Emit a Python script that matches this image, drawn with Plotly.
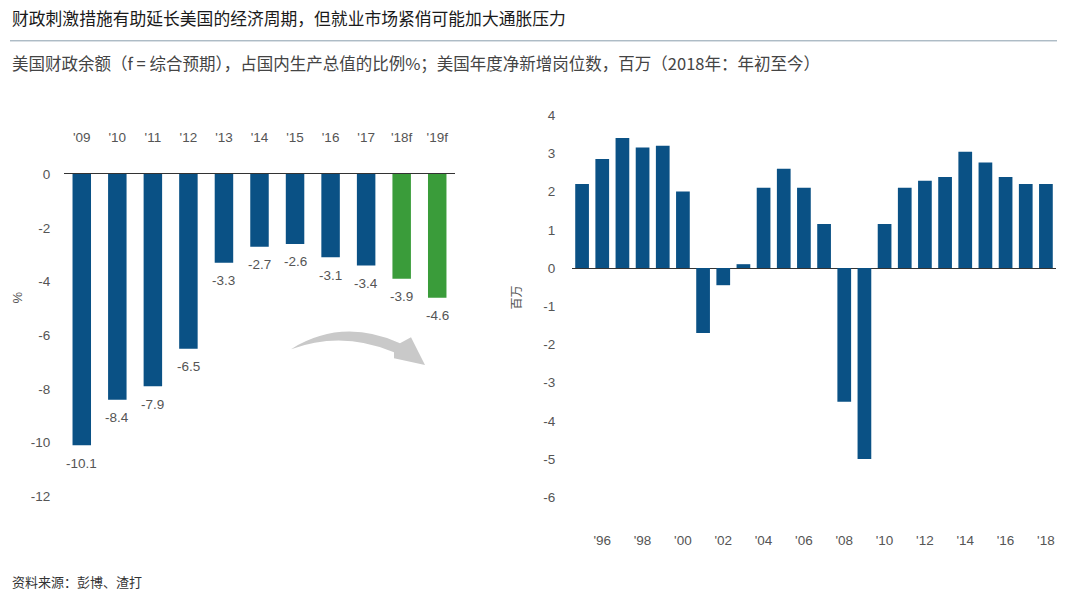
import plotly.graph_objects as go

# ---------------- data ----------------
fiscal_years = ["'09", "'10", "'11", "'12", "'13", "'14", "'15", "'16", "'17", "'18f", "'19f"]
fiscal_balance = [-10.1, -8.4, -7.9, -6.5, -3.3, -2.7, -2.6, -3.1, -3.4, -3.9, -4.6]

job_years = list(range(1995, 2019))
job_gains = [2.2, 2.85, 3.4, 3.15, 3.2, 2.0, -1.7, -0.45, 0.1, 2.1, 2.6, 2.1, 1.15,
             -3.5, -5.0, 1.15, 2.1, 2.28, 2.38, 3.04, 2.76, 2.38, 2.2, 2.2]
job_tick_years = list(range(1996, 2019, 2))
job_tick_labels = ["'96", "'98", "'00", "'02", "'04", "'06", "'08", "'10", "'12", "'14", "'16", "'18"]

left_ticks = [0, -2, -4, -6, -8, -10, -12]
right_ticks = [4, 3, 2, 1, 0, -1, -2, -3, -4, -5, -6]

title = "财政刺激措施有助延长美国的经济周期，但就业市场紧俏可能加大通胀压力"
subtitle = "美国财政余额（f = 综合预期），占国内生产总值的比例%；美国年度净新增岗位数，百万（2018年：年初至今）"
source = "资料来源：彭博、渣打"

# ---------------- styles ----------------
W, H = 1080, 596
BLUE = "#0a5185"
GREEN = "#3a9c3a"
TXT = "#555555"
NUM_FONT = "Liberation Sans, Arial, sans-serif"
CJK_FONT = "Noto Sans CJK SC, sans-serif"


def px(x):
    return x / W


def py(y):
    # map a target screen y (px) to paper fraction
    y_in = (y - 6) / 0.98
    return 1 - y_in / H


bar_colors = [GREEN if lab.endswith("f") else BLUE for lab in fiscal_years]

fig = go.Figure()
fig.add_trace(go.Bar(x=fiscal_years, y=fiscal_balance, marker=dict(color=bar_colors, line=dict(width=0)),
                     width=0.52, xaxis="x", yaxis="y", hoverinfo="x+y"))
fig.add_trace(go.Bar(x=job_years, y=job_gains, marker=dict(color=BLUE, line=dict(width=0)),
                     width=0.68, xaxis="x2", yaxis="y2", hoverinfo="x+y"))

annotations = []
for cat, val in zip(fiscal_years, fiscal_balance):
    annotations.append(dict(x=cat, y=val, xref="x", yref="y", text=f"{val:.1f}", showarrow=False,
                            yshift=-18, yanchor="middle",
                            font=dict(family=NUM_FONT, size=13.5, color=TXT)))

annotations += [
    dict(x=px(10), y=py(17), xref="paper", yref="paper", text=title, showarrow=False,
         xanchor="left", yanchor="middle", font=dict(family=CJK_FONT, size=16.8, color="#1a1a1a")),
    dict(x=px(10), y=py(62), xref="paper", yref="paper", text=subtitle, showarrow=False,
         xanchor="left", yanchor="middle", font=dict(family=CJK_FONT, size=16.5, color="#444444")),
    dict(x=px(10), y=py(584), xref="paper", yref="paper", text=source, showarrow=False,
         xanchor="left", yanchor="middle", font=dict(family=CJK_FONT, size=13, color="#333333")),
    dict(x=px(17), y=py(298), xref="paper", yref="paper", text="%", showarrow=False, textangle=-90,
         xanchor="center", yanchor="middle", font=dict(family=NUM_FONT, size=13, color=TXT)),
    dict(x=px(515), y=py(298), xref="paper", yref="paper", text="百万", showarrow=False, textangle=-90,
         xanchor="center", yanchor="middle", font=dict(family=CJK_FONT, size=12, color=TXT)),
]

# curved grey arrow (decorative)
pts = [("M", 291, 350), ("Q", 342, 318, 400, 344), ("L", 411, 338), ("L", 425, 366),
       ("L", 394, 359), ("L", 394, 353), ("Q", 342, 331, 291, 350)]
path = ""
for p in pts:
    cmd = p[0]
    coords = p[1:]
    s = []
    for i in range(0, len(coords), 2):
        s.append(f"{px(coords[i]):.5f},{py(coords[i + 1]):.5f}")
    path += cmd + " " + " ".join(s) + " "
path += "Z"

shapes = [
    dict(type="line", xref="paper", yref="paper", x0=px(10), x1=px(1057), y0=py(40), y1=py(40),
         line=dict(color="#8a9eac", width=1)),
    dict(type="path", xref="paper", yref="paper", path=path, fillcolor="#c9c9c9",
         line=dict(width=0)),
]

fig.update_layout(
    width=W, height=H,
    margin=dict(l=0, r=0, t=0, b=0),
    paper_bgcolor="white", plot_bgcolor="white",
    showlegend=False,
    annotations=annotations,
    shapes=shapes,
    xaxis=dict(domain=[px(64), px(455)], type="category", side="top", anchor="y",
               showline=True, linecolor="#333333", linewidth=1, showgrid=False,
               ticks="outside", ticklen=26, tickcolor="rgba(0,0,0,0)",
               tickfont=dict(family=NUM_FONT, size=13.5, color=TXT), fixedrange=True),
    yaxis=dict(domain=[py(498), py(174)], range=[-12, 0], tickvals=left_ticks,
               ticktext=[str(v) for v in left_ticks],
               showgrid=False, zeroline=False, showline=False,
               ticks="outside", ticklen=10, tickcolor="rgba(0,0,0,0)",
               tickfont=dict(family=NUM_FONT, size=13.5, color=TXT), anchor="x", fixedrange=True),
    xaxis2=dict(domain=[px(572), px(1056)], range=[1994.5, 2018.5], tickvals=job_tick_years,
                ticktext=job_tick_labels, anchor="y2", showline=False, showgrid=False, zeroline=False,
                ticks="outside", ticklen=8, tickcolor="rgba(0,0,0,0)",
                tickfont=dict(family=NUM_FONT, size=13.5, color=TXT), fixedrange=True),
    yaxis2=dict(domain=[py(522), py(107)], range=[-6.6, 4.2], tickvals=right_ticks,
                ticktext=[str(v) for v in right_ticks],
                showgrid=False, zeroline=True, zerolinecolor="#333333", zerolinewidth=1, showline=False,
                ticks="outside", ticklen=13, tickcolor="rgba(0,0,0,0)",
                tickfont=dict(family=NUM_FONT, size=13.5, color=TXT), anchor="x2", fixedrange=True),
)

fig.write_html("out.html", config={"displayModeBar": False},
               post_script="document.body.style.margin='0px';document.body.style.overflow='hidden';")
